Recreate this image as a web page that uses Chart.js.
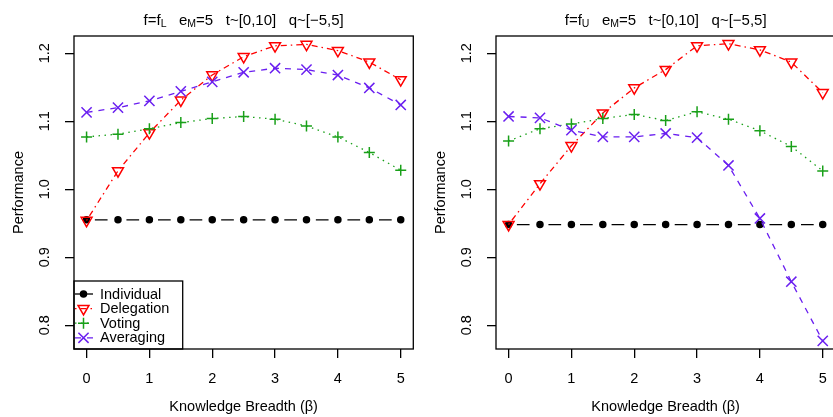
<!DOCTYPE html>
<html>
<head>
<meta charset="utf-8">
<title>Performance vs knowledge breadth</title>
<script src="https://cdn.jsdelivr.net/npm/chart.js"></script>
<style>
  body { margin: 0; width: 833px; height: 417px; overflow: hidden; background: #fff; position: relative; }
  .panel { position: absolute; top: 0; width: 422px; height: 417px; }
</style>
</head>
<body>
<div class="panel" style="left:0"><canvas id="chartL" width="422" height="417"></canvas></div>
<div class="panel" style="left:422px"><canvas id="chartU" width="422" height="417"></canvas></div>

<script>
// data
const breadth = [0, 0.5, 1, 1.5, 2, 2.5, 3, 3.5, 4, 4.5, 5];
const xTicks = [0, 1, 2, 3, 4, 5];
const yTicks = [0.8, 0.9, 1.0, 1.1, 1.2];
const seriesNames = ['Individual', 'Delegation', 'Voting', 'Averaging'];

// f = f_L
const lowIndividual = [0.955, 0.955, 0.955, 0.955, 0.955, 0.955, 0.955, 0.955, 0.955, 0.955, 0.955];
const lowDelegation = [0.954, 1.027, 1.083, 1.131, 1.168, 1.195, 1.211, 1.213, 1.204, 1.187, 1.161];
const lowVoting     = [1.077, 1.081, 1.089, 1.098, 1.104, 1.107, 1.103, 1.093, 1.077, 1.054, 1.028];
const lowAveraging  = [1.113, 1.120, 1.130, 1.144, 1.158, 1.172, 1.178, 1.176, 1.168, 1.149, 1.124];

// f = f_U
const upIndividual = [0.948, 0.948, 0.948, 0.948, 0.948, 0.948, 0.948, 0.948, 0.948, 0.948, 0.948];
const upDelegation = [0.948, 1.008, 1.064, 1.112, 1.149, 1.176, 1.211, 1.214, 1.205, 1.187, 1.142];
const upVoting     = [1.071, 1.089, 1.096, 1.104, 1.110, 1.101, 1.114, 1.103, 1.086, 1.063, 1.027];
const upAveraging  = [1.107, 1.105, 1.087, 1.077, 1.077, 1.082, 1.076, 1.035, 0.957, 0.864, 0.777];

const FONT = '"Liberation Sans", Arial, Helvetica, sans-serif';
const FS = 14.5;

// one style per series (same order as seriesNames)
const styles = [
  { color: '#000000', fill: '#000000', pointStyle: 'circle', radius: 3, rotation: 0, dash: [12.7, 18.87], dashOffset: 23.27 },
  { color: '#ff0000', fill: 'rgba(0,0,0,0)', pointStyle: 'triangle', radius: 6.3, rotation: 180, dash: [1.5, 4, 6, 4], dashOffset: 0 },
  { color: '#19a019', fill: 'rgba(0,0,0,0)', pointStyle: 'cross', radius: 5.5, rotation: 0, dash: [1.5, 4.5], dashOffset: 0 },
  { color: '#6a1ff0', fill: 'rgba(0,0,0,0)', pointStyle: 'crossRot', radius: 7.2, rotation: 0, dash: [6, 6], dashOffset: 0 }
];

function makeDatasets(seriesList) {
  return seriesList.map((vals, i) => {
    const s = styles[i];
    return {
      label: seriesNames[i],
      data: breadth.map((b, k) => ({ x: b, y: vals[k] })),
      borderColor: s.color,
      backgroundColor: s.fill,
      borderWidth: 1.3,
      borderDash: s.dash,
      borderDashOffset: s.dashOffset,
      pointStyle: s.pointStyle,
      pointRadius: s.radius,
      pointRotation: s.rotation,
      pointBorderColor: s.color,
      pointBackgroundColor: s.fill,
      pointBorderWidth: 1.5,
      tension: 0,
      order: 3 - i
    };
  });
}

const framePlugin = {
  id: 'frame',
  beforeDatasetsDraw(chart) {
    const { ctx, chartArea: a } = chart;
    ctx.save();
    ctx.strokeStyle = '#000';
    ctx.lineWidth = 1.3;
    ctx.strokeRect(a.left, a.top, a.right - a.left, a.bottom - a.top);
    ctx.restore();
  }
};

// titles, y tick labels (rotated like R) and axis titles
function textPlugin(titleParts) {
  return {
    id: 'texts',
    afterDraw(chart) {
      const { ctx, chartArea: a } = chart;
      const yScale = chart.scales.y;
      ctx.save();
      ctx.fillStyle = '#000';
      ctx.font = FS + 'px ' + FONT;

      // y tick labels
      yTicks.forEach(v => {
        const py = yScale.getPixelForValue(v);
        ctx.save();
        ctx.translate(48.5, py);
        ctx.rotate(-Math.PI / 2);
        ctx.textAlign = 'center';
        ctx.textBaseline = 'alphabetic';
        ctx.fillText(v.toFixed(1), 0, 0);
        ctx.restore();
      });

      // y title
      ctx.save();
      ctx.translate(23, (a.top + a.bottom) / 2);
      ctx.rotate(-Math.PI / 2);
      ctx.textAlign = 'center';
      ctx.fillText('Performance', 0, 0);
      ctx.restore();

      // x title
      ctx.textAlign = 'center';
      ctx.textBaseline = 'alphabetic';
      ctx.fillText('Knowledge Breadth (\u03B2)', (a.left + a.right) / 2, 410.5);

      // main title with subscripts
      const mainFont = '15px ' + FONT;
      const subFont = '10.5px ' + FONT;
      let w = 0;
      titleParts.forEach(p => { ctx.font = p.sub ? subFont : mainFont; w += ctx.measureText(p.t).width; });
      let x = (a.left + a.right) / 2 - w / 2;
      ctx.textAlign = 'left';
      titleParts.forEach(p => {
        ctx.font = p.sub ? subFont : mainFont;
        ctx.fillText(p.t, x, p.sub ? 27 : 24.5);
        x += ctx.measureText(p.t).width;
      });
      ctx.restore();
    }
  };
}

const legendPlugin = {
  id: 'boxLegend',
  afterDatasetsDraw(chart) {
    const { ctx, chartArea: a } = chart;
    const top = 281, right = 182.7;
    ctx.save();
    ctx.strokeStyle = '#000';
    ctx.lineWidth = 1.3;
    ctx.strokeRect(a.left, top, right - a.left, a.bottom - top);
    chart.data.datasets.forEach((ds, i) => {
      const s = styles[i];
      const y = 294 + i * 14.6;
      ctx.save();
      ctx.strokeStyle = s.color;
      ctx.lineWidth = 1.3;
      ctx.setLineDash(i === 0 ? [] : s.dash);
      ctx.beginPath();
      ctx.moveTo(75, y);
      ctx.lineTo(93, y);
      ctx.stroke();
      ctx.setLineDash([]);
      ctx.fillStyle = s.fill;
      ctx.lineWidth = 1.5;
      Chart.helpers.drawPoint(ctx, { pointStyle: s.pointStyle, rotation: s.rotation, radius: s.radius, borderWidth: 1.5 }, 83.5, y);
      ctx.restore();
      ctx.fillStyle = '#000';
      ctx.font = FS + 'px ' + FONT;
      ctx.textAlign = 'left';
      ctx.textBaseline = 'middle';
      ctx.fillText(ds.label, 100, y + 0.5);
    });
    ctx.restore();
  }
};

function makeChart(id, seriesList, titleParts, withLegend) {
  const plugins = [framePlugin, textPlugin(titleParts)];
  if (withLegend) plugins.push(legendPlugin);
  return new Chart(document.getElementById(id), {
    type: 'line',
    data: { datasets: makeDatasets(seriesList) },
    options: {
      responsive: false,
      animation: false,
      layout: { padding: { left: 0, right: 7, top: 36, bottom: 0 } },
      plugins: { legend: { display: false }, title: { display: false }, tooltip: { enabled: false } },
      scales: {
        x: {
          type: 'linear',
          min: -0.2,
          max: 5.2,
          afterBuildTicks: s => { s.ticks = xTicks.map(v => ({ value: v })); },
          afterFit: s => { s.height = 68; },
          grid: { drawOnChartArea: false, drawTicks: true, tickLength: 9, color: '#000', lineWidth: 1.3 },
          border: { display: false },
          ticks: { color: '#000', font: { family: FONT, size: FS }, padding: 12, maxRotation: 0, autoSkip: false }
        },
        y: {
          type: 'linear',
          min: 0.765,
          max: 1.2254,
          afterBuildTicks: s => { s.ticks = yTicks.map(v => ({ value: v })); },
          afterFit: s => { s.width = 74; },
          grid: { drawOnChartArea: false, drawTicks: true, tickLength: 9, color: '#000', lineWidth: 1.3 },
          border: { display: false },
          ticks: { display: false }
        }
      }
    },
    plugins: plugins
  });
}

makeChart('chartL', [lowIndividual, lowDelegation, lowVoting, lowAveraging],
  [{ t: 'f=f' }, { t: 'L', sub: true }, { t: '   e' }, { t: 'M', sub: true }, { t: '=5   t~[0,10]   q~[\u22125,5]' }], true);
makeChart('chartU', [upIndividual, upDelegation, upVoting, upAveraging],
  [{ t: 'f=f' }, { t: 'U', sub: true }, { t: '   e' }, { t: 'M', sub: true }, { t: '=5   t~[0,10]   q~[\u22125,5]' }], false);
</script>
</body>
</html>
